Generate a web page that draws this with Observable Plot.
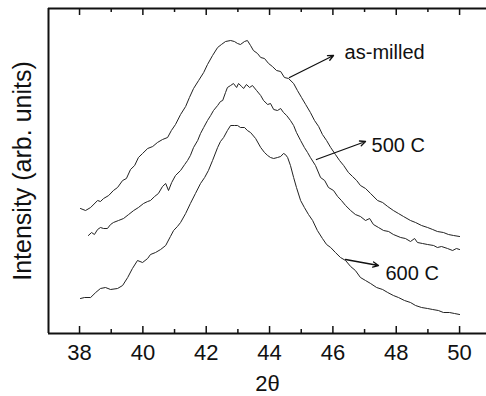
<!DOCTYPE html>
<html>
<head>
<meta charset="utf-8">
<script src="https://cdn.jsdelivr.net/npm/d3@7"></script>
<script src="https://cdn.jsdelivr.net/npm/@observablehq/plot@0.6"></script>
<style>
  html, body { margin: 0; padding: 0; background: #fff; }
  #chart { width: 486px; height: 396px; }
</style>
</head>
<body>
<div id="chart"></div>
<script>
// 2θ (degrees) and intensity (arb. units)
const asMilledX = [38.03,38.19,38.35,38.57,38.66,38.76,38.92,39.07,39.20,39.36,39.48,39.61,39.74,39.86,39.99,40.15,40.31,40.46,40.62,40.78,40.90,41.03,41.19,41.35,41.47,41.60,41.76,41.92,42.04,42.20,42.36,42.48,42.61,42.77,42.89,42.99,43.08,43.21,43.30,43.40,43.49,43.62,43.72,43.84,43.97,44.09,44.22,44.35,44.47,44.60,44.76,44.88,45.01,45.14,45.29,45.42,45.55,45.67,45.80,45.93,46.08,46.21,46.34,46.49,46.62,46.75,46.87,47.03,47.19,47.41,47.57,47.73,47.91,48.07,48.23,48.45,48.61,48.80,48.99,49.15,49.30,49.49,49.65,49.81,50.00];
const asMilledY = [125,123,126,133,132,135,138,143,146,153,155,164,168,176,180,185,187,191,194,196,203,209,219,227,236,245,253,261,269,278,286,289,292,293,292,290,289,292,293,288,283,280,276,275,270,267,263,262,256,255,250,243,236,229,221,213,207,199,193,186,179,173,168,161,157,153,148,145,140,133,131,127,123,120,117,113,111,108,106,104,102,101,99,98,97];

const c500X = [38.28,38.38,38.47,38.57,38.66,38.76,38.88,38.98,39.07,39.23,39.39,39.55,39.71,39.86,40.02,40.15,40.24,40.37,40.49,40.62,40.72,40.81,40.91,41.03,41.19,41.32,41.41,41.50,41.60,41.73,41.82,41.92,42.04,42.14,42.23,42.36,42.45,42.52,42.61,42.67,42.77,42.86,42.96,43.02,43.12,43.18,43.27,43.37,43.46,43.59,43.72,43.81,43.94,44.03,44.13,44.25,44.35,44.44,44.54,44.66,44.76,44.85,44.98,45.10,45.20,45.29,45.45,45.61,45.74,45.86,46.02,46.15,46.27,46.40,46.56,46.71,46.87,47.03,47.16,47.28,47.44,47.60,47.76,47.91,48.14,48.29,48.45,48.58,48.67,48.83,48.99,49.18,49.30,49.43,49.62,49.78,49.90,50.00];
const c500Y = [98,101,99,104,106,105,105,109,111,113,115,119,123,126,130,132,133,137,140,147,150,143,151,158,163,169,173,178,186,193,200,206,213,218,223,228,232,233,241,246,248,250,246,250,247,245,249,246,248,243,238,233,229,230,224,223,225,221,218,213,208,201,193,186,181,176,168,156,153,146,143,137,133,128,123,119,117,113,115,109,106,103,102,99,96,95,92,95,91,90,89,88,86,87,85,83,85,84];

const c600X = [38.03,38.16,38.35,38.51,38.66,38.82,38.98,39.20,39.36,39.52,39.67,39.83,39.99,40.15,40.24,40.40,40.56,40.72,40.87,40.97,41.09,41.19,41.35,41.50,41.66,41.82,41.95,42.07,42.20,42.36,42.45,42.55,42.67,42.77,42.89,42.99,43.08,43.21,43.30,43.40,43.56,43.72,43.84,43.94,44.03,44.13,44.25,44.35,44.44,44.50,44.57,44.66,44.76,44.85,44.98,45.10,45.23,45.36,45.51,45.67,45.80,45.93,46.08,46.24,46.40,46.56,46.71,46.87,47.03,47.19,47.38,47.57,47.73,47.91,48.07,48.26,48.45,48.61,48.80,48.99,49.15,49.33,49.49,49.68,49.84,50.00];
const c600Y = [35,36,36,41,45,46,44,45,48,56,65,73,71,75,79,81,84,88,97,103,107,111,120,130,140,150,156,163,173,186,192,196,203,208,208,208,206,206,203,201,195,186,181,178,176,175,176,177,180,179,176,168,156,146,133,126,119,113,103,95,89,86,81,76,73,67,63,56,53,50,46,44,41,38,36,33,31,28,26,25,24,23,21,21,20,19];

const majorTicks = [38, 40, 42, 44, 46, 48, 50];
const minorTicks = [39, 41, 43, 45, 47, 49];

const labels = ["as-milled", "500 C", "600 C"];
const arrowX1 = [44.63, 45.48, 46.40];
const arrowY1 = [256, 174, 74];
const arrowX2 = [46.02, 47.03, 47.44];
const arrowY2 = [278, 192, 68];
const labelX = [46.37, 47.22, 47.66];
const labelY = [281, 188, 60];

const xLabel = "2θ";
const yLabel = "Intensity (arb. units)";

const toRows = (xs, ys) => xs.map((x, i) => ({x, y: ys[i]}));
const series = [toRows(asMilledX, asMilledY), toRows(c500X, c500Y), toRows(c600X, c600Y)];
const notes = labels.map((t, i) => ({t, x1: arrowX1[i], y1: arrowY1[i], x2: arrowX2[i], y2: arrowY2[i], lx: labelX[i], ly: labelY[i]}));

const ink = "#111";
const plot = Plot.plot({
  width: 486,
  height: 396,
  marginLeft: 48,
  marginRight: 0,
  marginTop: 8,
  marginBottom: 63,
  style: {fontFamily: "'Liberation Sans', Arial, Helvetica, sans-serif", background: "#fff", color: ink},
  x: {domain: [37.02, 50.85]},
  y: {domain: [0, 325]},
  marks: [
    ...series.map(s => Plot.line(s, {x: "x", y: "y", stroke: "#222", strokeWidth: 1})),
    Plot.arrow(notes, {x1: "x1", y1: "y1", x2: "x2", y2: "y2", stroke: ink, strokeWidth: 1.3, headLength: 7, headAngle: 50}),
    Plot.text(notes, {x: "lx", y: "ly", text: "t", textAnchor: "start", lineAnchor: "middle", fontSize: 20, fill: ink}),
    // inward ticks, bottom and top
    Plot.tickX(majorTicks, {x: d => d, insetTop: 318, stroke: ink, strokeWidth: 1.5}),
    Plot.tickX(minorTicks, {x: d => d, insetTop: 321, stroke: ink, strokeWidth: 1.5}),
    Plot.tickX(majorTicks, {x: d => d, insetBottom: 318, stroke: ink, strokeWidth: 1.5}),
    Plot.tickX(minorTicks, {x: d => d, insetBottom: 321, stroke: ink, strokeWidth: 1.5}),
    Plot.axisX({ticks: majorTicks, tickSize: 0, tickPadding: 11, fontSize: 22, label: null, tickFormat: d => String(d)}),
    Plot.axisY({ticks: [], label: null, tickSize: 0}),
    // frame: left, bottom, top
    Plot.ruleX([37.02], {stroke: ink, strokeWidth: 2}),
    Plot.ruleY([0], {stroke: ink, strokeWidth: 2}),
    Plot.ruleY([325], {stroke: ink, strokeWidth: 2}),
    Plot.text([xLabel], {frameAnchor: "bottom", dy: 50, textAnchor: "middle", lineAnchor: "middle", fontSize: 22, fill: ink}),
    Plot.text([yLabel], {frameAnchor: "left", dx: -26, rotate: -90, textAnchor: "middle", lineAnchor: "middle", fontSize: 25, fill: ink})
  ]
});
document.getElementById("chart").appendChild(plot);
</script>
</body>
</html>
